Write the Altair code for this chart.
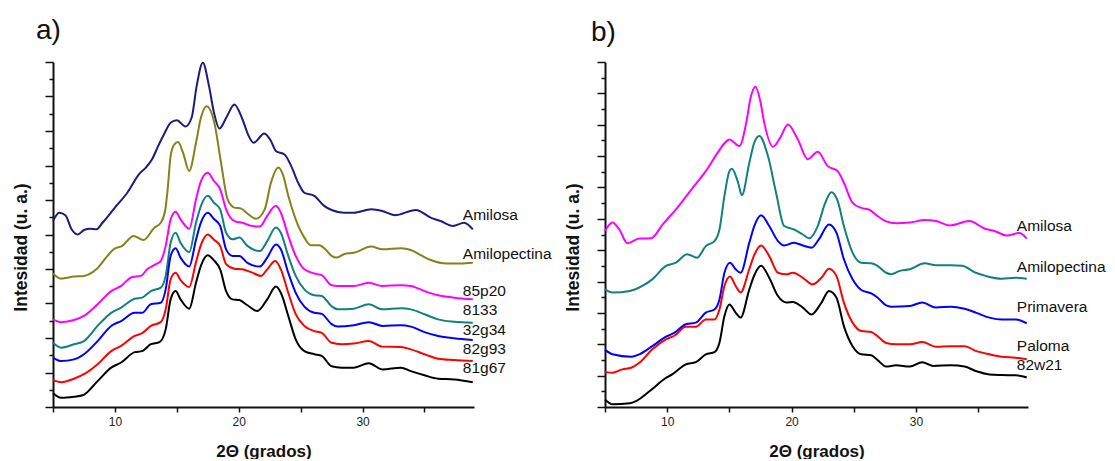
import altair as alt
import pandas as pd

# ---------------- Panel a) ----------------
A_AMILOSA_X = [5, 5.5, 6, 6.5, 7, 7.5, 8, 8.5, 9, 10, 11, 12, 12.5, 13, 13.5, 14, 14.5, 15, 15.7, 16.2, 16.6, 17.1, 17.6, 18.0, 18.44, 19.0, 19.65, 20.3, 20.8, 21.2, 22.07, 22.6, 23.0, 23.7, 24.23, 24.8, 25.3, 26.1, 26.9, 27.5, 28.5, 29.3, 30.7, 31.6, 32.6, 34.3, 35.5, 36.3, 37.3, 38.2, 38.9]
A_AMILOSA_Y = [5.39, 5.63, 5.56, 5.15, 5.0, 5.13, 5.17, 5.15, 5.34, 5.78, 6.21, 6.77, 6.94, 7.18, 7.57, 7.93, 8.24, 8.31, 8.13, 8.39, 9.3, 9.98, 9.3, 8.53, 8.07, 8.39, 8.77, 8.34, 7.86, 7.66, 7.93, 7.71, 7.42, 7.32, 6.99, 6.5, 6.21, 6.12, 5.83, 5.71, 5.63, 5.63, 5.73, 5.68, 5.56, 5.71, 5.49, 5.39, 5.25, 5.34, 5.15]

A_AMILOPECTINA_X = [5, 5.65, 6.7, 7.5, 8.5, 9.4, 9.9, 10.6, 11.5, 12.3, 13.2, 13.7, 14.05, 14.26, 14.5, 14.8, 15.1, 15.5, 16.0, 16.55, 16.95, 17.4, 18.03, 18.57, 19.1, 19.65, 20.2, 20.7, 21.4, 22.1, 22.6, 23.2, 23.6, 24.0, 24.6, 25.3, 25.8, 26.5, 27.0, 27.5, 27.9, 28.5, 29.3, 30.7, 31.6, 33.1, 33.9, 34.7, 35.5, 36.8, 37.9, 38.9]
A_AMILOPECTINA_Y = [3.87, 3.72, 3.78, 3.8, 3.99, 4.38, 4.57, 4.67, 4.96, 4.84, 5.2, 5.34, 5.68, 6.31, 7.28, 7.61, 7.68, 7.37, 6.84, 7.66, 8.39, 8.72, 8.24, 7.08, 6.02, 5.78, 5.75, 5.61, 5.46, 5.73, 6.5, 6.94, 6.7, 6.12, 5.44, 4.91, 4.69, 4.69, 4.57, 4.38, 4.33, 4.43, 4.47, 4.65, 4.57, 4.6, 4.55, 4.4, 4.26, 4.16, 4.16, 4.18]

A_85P20_X = [5, 5.65, 6.7, 7.5, 8.6, 9.7, 10.5, 11.4, 12.1, 12.6, 13.3, 13.7, 14.1, 14.5, 14.9, 15.3, 16.0, 16.55, 16.95, 17.5, 18.0, 18.5, 18.98, 19.65, 20.3, 21.0, 21.7, 22.3, 23.0, 23.4, 24.0, 24.6, 25.3, 26.1, 26.7, 27.5, 28.0, 29.3, 30.5, 31.6, 33.1, 33.9, 35.0, 36.1, 37.4, 38.9]
A_85P20_Y = [2.54, 2.46, 2.52, 2.64, 2.98, 3.36, 3.51, 3.77, 3.8, 3.99, 4.14, 4.23, 4.67, 5.44, 5.66, 5.44, 5.17, 6.02, 6.55, 6.79, 6.55, 6.31, 5.73, 5.39, 5.34, 5.25, 5.23, 5.54, 5.83, 5.63, 4.96, 4.38, 3.99, 3.87, 3.82, 3.53, 3.51, 3.51, 3.6, 3.51, 3.53, 3.51, 3.36, 3.24, 3.17, 3.12]

A_8133_X = [5, 5.65, 6.7, 7.5, 8.6, 9.7, 10.5, 11.6, 12.2, 12.9, 13.7, 14.1, 14.5, 14.9, 15.3, 16.0, 16.55, 16.95, 17.5, 18.0, 18.5, 18.98, 19.5, 20.05, 20.7, 21.7, 22.3, 23.0, 23.4, 24.0, 24.6, 25.3, 26.1, 26.7, 27.5, 28.0, 29.3, 30.5, 31.6, 33.1, 33.9, 35.0, 36.1, 37.4, 38.9]
A_8133_Y = [1.86, 1.72, 1.82, 1.91, 2.35, 2.73, 2.88, 3.14, 3.17, 3.36, 3.46, 3.8, 4.76, 5.05, 4.76, 4.49, 5.34, 5.83, 6.12, 5.92, 5.73, 5.05, 4.86, 4.91, 4.67, 4.52, 4.81, 5.2, 5.05, 4.38, 3.8, 3.41, 3.24, 3.22, 2.92, 2.83, 2.85, 2.98, 2.83, 2.86, 2.83, 2.69, 2.54, 2.47, 2.44]

A_32G34_X = [5, 5.65, 6.7, 7.5, 8.6, 9.7, 10.5, 11.6, 12.2, 12.9, 13.7, 14.1, 14.5, 14.9, 15.3, 16.0, 16.55, 16.95, 17.5, 18.0, 18.5, 18.98, 19.5, 20.05, 20.7, 21.7, 22.3, 23.0, 23.4, 24.0, 24.6, 25.3, 26.1, 26.7, 27.5, 28.0, 29.3, 30.5, 31.6, 33.1, 33.9, 35.0, 36.1, 37.4, 38.9]
A_32G34_Y = [1.43, 1.33, 1.38, 1.53, 1.91, 2.35, 2.49, 2.73, 2.73, 2.98, 3.02, 3.41, 4.38, 4.6, 4.33, 4.07, 4.85, 5.35, 5.63, 5.45, 5.25, 4.57, 4.38, 4.38, 4.18, 4.07, 4.33, 4.71, 4.57, 3.89, 3.31, 2.91, 2.73, 2.7, 2.4, 2.33, 2.37, 2.46, 2.35, 2.37, 2.33, 2.17, 2.06, 1.99, 1.94]

A_82G93_X = [5, 5.65, 6.7, 7.5, 8.6, 9.7, 10.5, 11.6, 12.2, 12.9, 13.7, 14.1, 14.5, 14.9, 15.3, 16.0, 16.55, 16.95, 17.5, 18.0, 18.5, 18.98, 19.65, 20.3, 21.0, 21.8, 22.3, 22.95, 23.4, 24.0, 24.6, 25.3, 26.1, 26.7, 27.5, 28.3, 29.3, 30.5, 31.6, 33.1, 33.9, 35.0, 36.1, 37.4, 38.9]
A_82G93_Y = [0.78, 0.72, 0.82, 0.95, 1.24, 1.62, 1.77, 2.06, 2.14, 2.35, 2.46, 2.83, 3.7, 3.89, 3.68, 3.48, 4.2, 4.7, 5.0, 4.85, 4.67, 4.14, 4.01, 3.99, 3.91, 3.8, 3.99, 4.23, 3.99, 3.31, 2.69, 2.35, 2.2, 2.15, 1.86, 1.82, 1.84, 1.91, 1.75, 1.74, 1.67, 1.53, 1.4, 1.36, 1.33]

A_81G67_X = [5, 5.65, 6.7, 7.4, 8.6, 9.7, 10.5, 11.6, 12.2, 12.9, 13.6, 14.1, 14.5, 14.9, 15.3, 16.0, 16.55, 16.95, 17.5, 18.0, 18.5, 18.98, 19.5, 20.05, 20.7, 21.5, 22.3, 23.0, 23.4, 24.0, 24.6, 25.3, 26.1, 26.7, 27.5, 28.3, 29.3, 30.5, 31.6, 33.1, 33.9, 35.0, 36.1, 37.4, 38.9]
A_81G67_Y = [0.4, 0.27, 0.3, 0.34, 0.75, 1.14, 1.29, 1.59, 1.62, 1.82, 1.88, 2.25, 3.12, 3.36, 3.12, 2.85, 3.6, 4.1, 4.4, 4.25, 3.99, 3.36, 3.12, 3.1, 2.95, 2.78, 3.12, 3.49, 3.31, 2.64, 1.96, 1.62, 1.53, 1.48, 1.18, 1.14, 1.14, 1.27, 1.09, 1.14, 1.04, 0.92, 0.82, 0.8, 0.72]

A_NAMES = ["Amilosa", "Amilopectina", "85p20", "8133", "32g34", "82g93", "81g67"]
A_COLORS = ["#1c1c7c", "#83831a", "#ff00ff", "#108080", "#0000ff", "#ff0000", "#000000"]
A_LABEL_Y = [5.57, 4.43, 3.36, 2.81, 2.23, 1.68, 1.13]

# ---------------- Panel b) ----------------
B_AMILOSA_X = [5, 5.6, 6.15, 6.8, 7.76, 8.7, 9.64, 10.7, 12.05, 13.1, 14.06, 14.6, 15.0, 15.8, 16.35, 16.7, 17.09, 17.45, 17.8, 18.5, 19.1, 19.7, 20.5, 21.3, 22.1, 22.9, 23.7, 24.2, 24.9, 25.6, 26.3, 26.9, 27.6, 28.4, 29.5, 30.7, 31.6, 32.7, 34.3, 35.5, 36.3, 37.3, 38.3, 38.9]
B_AMILOSA_Y = [5.61, 5.88, 5.66, 5.22, 5.37, 5.38, 5.82, 6.3, 6.99, 7.52, 8.11, 8.41, 8.53, 8.32, 9.06, 9.85, 10.21, 9.81, 9.06, 8.3, 8.6, 9.01, 8.53, 7.9, 8.14, 7.68, 7.52, 7.15, 6.51, 6.35, 6.28, 6.09, 5.92, 5.86, 5.88, 5.96, 5.93, 5.79, 5.93, 5.69, 5.61, 5.47, 5.55, 5.37]

B_AMILOPECTINA_X = [5, 5.6, 7.0, 8.0, 8.8, 9.9, 10.7, 11.6, 12.4, 13.1, 13.8, 14.2, 14.6, 15.0, 15.2, 15.7, 16.0, 16.6, 17.0, 17.4, 18.1, 18.75, 19.4, 20.2, 20.9, 21.4, 22.1, 22.7, 23.2, 23.7, 24.2, 24.9, 25.6, 26.4, 26.9, 27.6, 28.0, 28.7, 29.5, 30.7, 31.6, 32.8, 33.7, 34.8, 35.6, 36.9, 38.0, 38.9]
B_AMILOPECTINA_Y = [3.75, 3.65, 3.7, 3.86, 4.07, 4.5, 4.6, 4.87, 4.76, 5.13, 5.29, 5.66, 6.73, 7.52, 7.6, 7.15, 6.75, 7.79, 8.43, 8.64, 8.0, 6.83, 5.77, 5.66, 5.5, 5.38, 5.77, 6.51, 6.85, 6.57, 5.77, 4.92, 4.6, 4.58, 4.5, 4.28, 4.23, 4.34, 4.39, 4.58, 4.52, 4.52, 4.5, 4.28, 4.18, 4.09, 4.12, 4.09]

B_PRIMAVERA_X = [5, 5.6, 7.1, 7.76, 8.8, 9.9, 10.6, 11.5, 12.3, 13.1, 13.8, 14.2, 14.6, 15.05, 15.5, 15.9, 16.6, 17.0, 17.55, 18.2, 18.9, 19.4, 20.2, 20.9, 21.6, 22.2, 23.0, 23.6, 24.2, 24.9, 25.6, 26.4, 26.9, 27.6, 28.0, 29.5, 30.5, 31.6, 32.8, 33.9, 34.8, 35.9, 36.9, 38.0, 38.9]
B_PRIMAVERA_Y = [1.82, 1.68, 1.6, 1.68, 1.94, 2.24, 2.37, 2.64, 2.69, 3.01, 3.11, 3.43, 4.28, 4.6, 4.39, 4.28, 5.24, 5.77, 6.11, 5.77, 5.29, 5.15, 5.24, 5.15, 5.08, 5.35, 5.82, 5.56, 4.71, 4.07, 3.73, 3.62, 3.49, 3.24, 3.2, 3.22, 3.33, 3.17, 3.2, 3.13, 3.01, 2.85, 2.79, 2.79, 2.67]

B_PALOMA_X = [5, 5.6, 6.4, 7.1, 7.76, 8.8, 9.9, 10.6, 11.5, 12.3, 13.1, 13.8, 14.2, 14.6, 15.05, 15.5, 15.9, 16.6, 17.0, 17.55, 18.2, 18.9, 19.6, 20.1, 20.9, 21.7, 22.4, 23.0, 23.6, 24.2, 24.9, 25.6, 26.4, 26.9, 27.6, 28.4, 29.5, 30.5, 31.6, 32.8, 33.9, 34.8, 35.9, 36.9, 38.0, 38.9]
B_PALOMA_Y = [1.12, 1.09, 1.2, 1.25, 1.41, 1.84, 2.16, 2.28, 2.56, 2.56, 2.79, 2.79, 3.11, 3.86, 4.16, 3.86, 3.65, 4.4, 4.85, 5.15, 4.81, 4.28, 4.23, 4.28, 4.12, 3.91, 4.12, 4.41, 4.18, 3.33, 2.69, 2.42, 2.39, 2.26, 2.04, 2.0, 2.0, 2.07, 1.92, 1.94, 1.94, 1.79, 1.68, 1.6, 1.57, 1.52]

B_82W21_X = [5, 5.6, 7.0, 7.5, 8.6, 9.8, 10.4, 11.5, 12.3, 13.1, 13.8, 14.2, 14.6, 15.0, 15.5, 15.9, 16.6, 17.0, 17.55, 18.2, 18.9, 19.6, 20.1, 20.9, 21.6, 22.4, 23.0, 23.6, 24.2, 24.9, 25.6, 26.4, 26.9, 27.6, 28.4, 29.5, 30.5, 31.4, 32.8, 33.9, 34.8, 35.9, 36.9, 38.0, 38.9]
B_82W21_Y = [0.24, 0.09, 0.12, 0.19, 0.51, 0.9, 1.04, 1.36, 1.43, 1.68, 1.75, 2.05, 2.9, 3.27, 3.01, 2.85, 3.75, 4.2, 4.5, 4.12, 3.54, 3.33, 3.35, 3.17, 2.95, 3.33, 3.7, 3.49, 2.58, 1.94, 1.68, 1.65, 1.5, 1.29, 1.33, 1.29, 1.43, 1.31, 1.33, 1.29, 1.15, 1.04, 1.02, 1.01, 0.94]

B_NAMES = ["Amilosa", "Amilopectina", "Primavera", "Paloma", "82w21"]
B_COLORS = ["#ff00ff", "#108080", "#0000ff", "#ff0000", "#000000"]
B_LABEL_Y = [5.77, 4.46, 3.19, 1.95, 1.34]

LABEL_X = 38.1
FONT = "Liberation Sans"


def build_frame(names, xs_list, ys_list):
    rows = []
    for name, xs, ys in zip(names, xs_list, ys_list):
        for i, (x, y) in enumerate(zip(xs, ys)):
            rows.append({"serie": name, "x": x, "y": y, "i": i})
    return pd.DataFrame(rows)


def panel(names, colors, xs_list, ys_list, label_y, ymax, letter, letter_dx, width):
    df = build_frame(names, xs_list, ys_list)
    xscale = alt.Scale(domain=[5, 39], nice=False, zero=False)
    yscale = alt.Scale(domain=[0, ymax], nice=False, zero=False)
    xaxis = alt.Axis(
        values=[5, 10, 15, 20, 25, 30, 35],
        tickCount=40,
        labelExpr="datum.value % 10 == 0 ? datum.label : ''",
        title="2Θ (grados)",
        titleFont=FONT, titleFontSize=17, titleFontWeight="bold", titleColor="#111",
        titleBaseline="alphabetic", titleY=49,
        labelFont=FONT, labelFontSize=12, labelColor="#222", labelPadding=4,
        tickSize=5, tickWidth=1.5, tickColor="#111",
        domainColor="#111", domainWidth=2, grid=False,
    )
    yaxis = alt.Axis(
        values=[k * 0.5 for k in range(2 * ymax + 1)],
        tickCount=60,
        labels=False,
        title="Intesidad (u. a.)",
        titleFont=FONT, titleFontSize=17.5, titleFontWeight="bold", titleColor="#111",
        titleAngle=270, titleAlign="center", titleBaseline="alphabetic",
        titleX=-27, titleY=185,
        tickSize=alt.condition("datum.value % 1 == 0", alt.value(8), alt.value(4)),
        tickWidth=1.5, tickColor="#111",
        domainColor="#111", domainWidth=2, grid=False,
    )
    lines = alt.Chart(df).mark_line(interpolate="monotone", strokeWidth=2).encode(
        x=alt.X("x:Q", scale=xscale, axis=xaxis),
        y=alt.Y("y:Q", scale=yscale, axis=yaxis),
        color=alt.Color("serie:N", scale=alt.Scale(domain=names, range=colors), legend=None),
        detail="serie:N",
        order="i:Q",
    )
    lab = pd.DataFrame({"name": names, "y": label_y, "x": [LABEL_X] * len(names)})
    text = alt.Chart(lab).mark_text(
        align="left", baseline="middle", fontSize=15.5, font=FONT, color="#111", clip=False
    ).encode(
        x=alt.X("x:Q", scale=xscale),
        y=alt.Y("y:Q", scale=yscale),
        text="name:N",
    )
    return alt.layer(lines, text).properties(
        width=width,
        height=345,
        title=alt.TitleParams(
            text=letter, anchor="start", frame="group", orient="top",
            font=FONT, fontSize=28, fontWeight="normal", color="#111",
            baseline="alphabetic", dx=letter_dx, offset=-8,
        ),
    )


pa = panel(A_NAMES, A_COLORS,
           [A_AMILOSA_X, A_AMILOPECTINA_X, A_85P20_X, A_8133_X, A_32G34_X, A_82G93_X, A_81G67_X],
           [A_AMILOSA_Y, A_AMILOPECTINA_Y, A_85P20_Y, A_8133_Y, A_32G34_Y, A_82G93_Y, A_81G67_Y],
           A_LABEL_Y, 10, "a)", -17, 421)
pb = panel(B_NAMES, B_COLORS,
           [B_AMILOSA_X, B_AMILOPECTINA_X, B_PRIMAVERA_X, B_PALOMA_X, B_82W21_X],
           [B_AMILOSA_Y, B_AMILOPECTINA_Y, B_PRIMAVERA_Y, B_PALOMA_Y, B_82W21_Y],
           B_LABEL_Y, 11, "b)", -14, 423)

chart = alt.hconcat(pa, pb, spacing=131, bounds="flush").resolve_scale(
    x="independent", y="independent", color="independent"
).properties(
    autosize=alt.AutoSizeParams(type="pad"),
    padding={"left": 12, "top": 16, "right": 0, "bottom": 0},
    background="white",
).configure_view(stroke=None)

chart.save("out.html", embed_options={"renderer": "svg", "actions": False})
